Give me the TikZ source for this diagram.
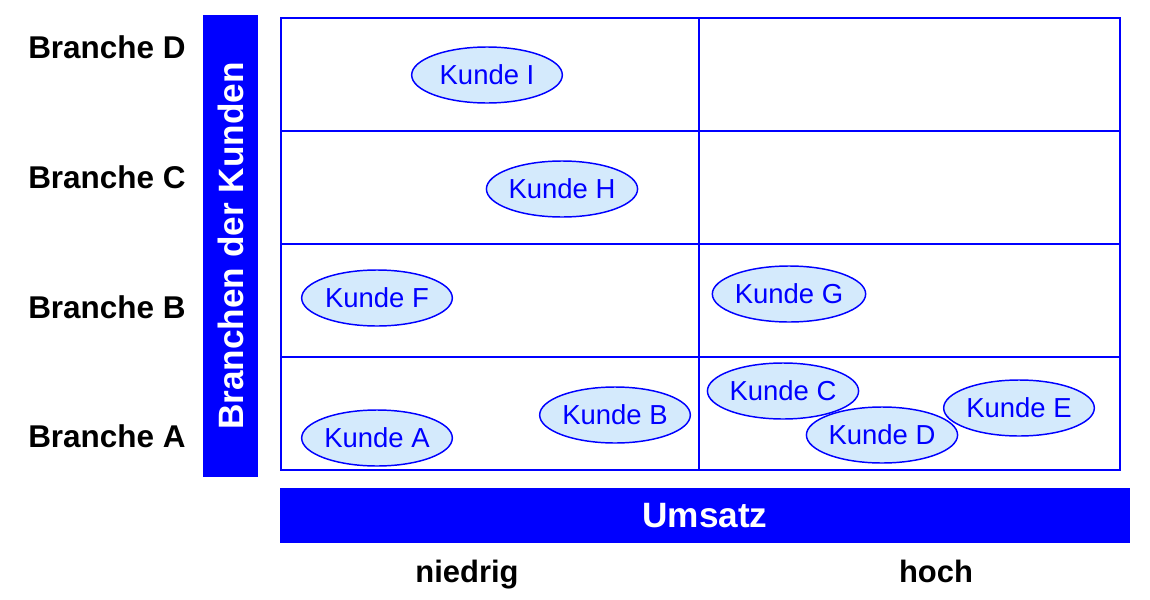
\documentclass[tikz,border=0pt]{standalone}
\usepackage{fontspec}
\setmainfont{Liberation Sans}
\usetikzlibrary{shapes.geometric}
\definecolor{kundeBlue}{RGB}{0,0,255}
\definecolor{kundeFill}{RGB}{212,234,252}

\begin{document}
\begin{tikzpicture}[
  x=0.75pt,
  y=-0.75pt,
  every kunde/.style={
    ellipse,
    draw=kundeBlue,
    line width=1.1pt,
    fill=kundeFill,
    text=kundeBlue,
    inner sep=0pt,
    minimum width=113pt,
    minimum height=42pt,
    font=\fontsize{20.6}{24}\selectfont,
  },
  kunde/.style={every kunde},
  branche/.style={
    anchor=west,
    inner sep=0pt,
    font=\fontsize{23.6}{27}\selectfont\bfseries,
  },
  stufe/.style={
    anchor=base,
    inner sep=0pt,
    font=\fontsize{23.2}{27}\selectfont\bfseries,
  },
  achse/.style={
    text=white,
    inner sep=0pt,
    font=\fontsize{26.4}{30}\selectfont\bfseries,
  },
  raster/.style={
    draw=kundeBlue,
    line width=1.5pt,
  },
]
\useasboundingbox (0,0) rectangle (1150,600);
\draw[raster] (281,18) rectangle (1120,470);
\draw[raster] (699,18) -- (699,470);
\draw[raster] (281,131) -- (1120,131);
\draw[raster] (281,244) -- (1120,244);
\draw[raster] (281,357) -- (1120,357);
\fill[kundeBlue] (203,15) rectangle (258,477);
\fill[kundeBlue] (280,488) rectangle (1130,543);
\node[achse,rotate=90] (branchen) at (230.5,246) {Branchen der Kunden};
\node[achse] (umsatz) at (705,516) {Umsatz};
\node[branche] (brancheD) at (28,47) {Branche D};
\node[branche] (brancheC) at (28,177) {Branche C};
\node[branche] (brancheB) at (28,307) {Branche B};
\node[branche] (brancheA) at (28,436.5) {Branche A};
\node[stufe] (niedrig) at (467,582) {niedrig};
\node[stufe] (hoch) at (936,582) {hoch};
\node[kunde] (kundeI) at (487,75) {Kunde I};
\node[kunde] (kundeH) at (562,189) {Kunde H};
\node[kunde] (kundeF) at (377,298) {Kunde F};
\node[kunde] (kundeG) at (789,294) {Kunde G};
\node[kunde] (kundeA) at (377,438) {Kunde A};
\node[kunde] (kundeB) at (615,415) {Kunde B};
\node[kunde] (kundeC) at (783,391) {Kunde C};
\node[kunde] (kundeD) at (882,435) {Kunde D};
\node[kunde] (kundeE) at (1019,408) {Kunde E};
\end{tikzpicture}
\end{document}
